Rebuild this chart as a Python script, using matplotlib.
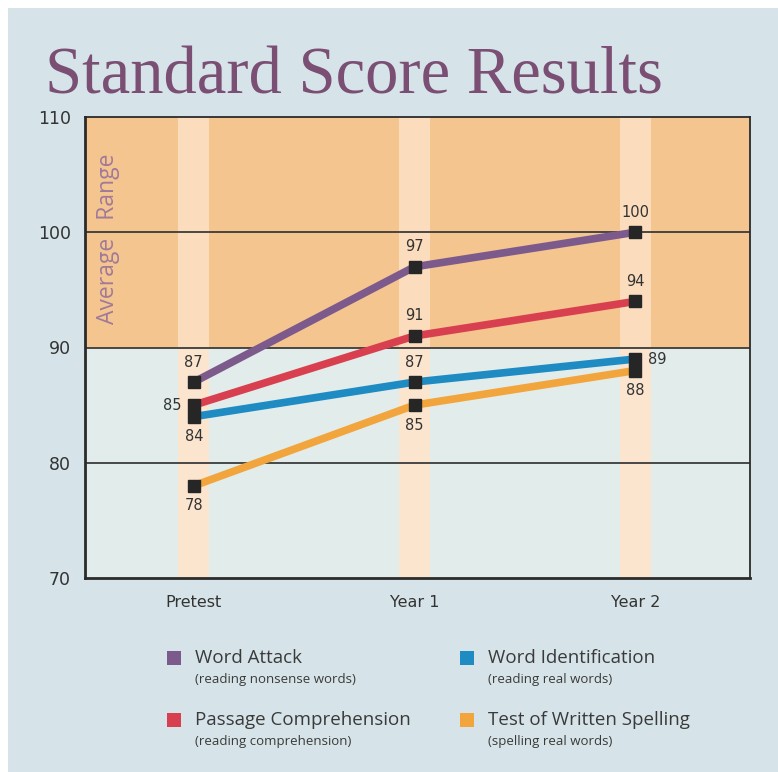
import numpy as np
import matplotlib
matplotlib.use("Agg")
import matplotlib.pyplot as plt
from matplotlib.patches import Rectangle

# data
categories = ["Pretest", "Year 1", "Year 2"]
word_attack = [87, 97, 100]
passage_comp = [85, 91, 94]
word_ident = [84, 87, 89]
spelling = [78, 85, 88]

series_names = ["Word Attack", "Word Identification",
                "Passage Comprehension", "Test of Written Spelling"]
series_notes = ["(reading nonsense words)", "(reading real words)",
                "(reading comprehension)", "(spelling real words)"]
yticks = [70, 80, 90, 100, 110]

# where each value label sits relative to its point
label_pos = {
    "Word Attack": ["above", "above", "above"],
    "Passage Comprehension": ["left", "above", "above"],
    "Word Identification": ["below", "above", "right"],
    "Test of Written Spelling": ["below", "below", "below"],
}
colors = {
    "Word Attack": "#7d5a8c",
    "Passage Comprehension": "#d9404f",
    "Word Identification": "#1f8bc3",
    "Test of Written Spelling": "#f2a53c",
}
values = {
    "Word Attack": word_attack,
    "Passage Comprehension": passage_comp,
    "Word Identification": word_ident,
    "Test of Written Spelling": spelling,
}

fig = plt.figure(figsize=(7.78, 7.72), dpi=100)
fig.patch.set_facecolor("white")
# light blue-grey panel behind everything
fig.patches.append(Rectangle((8 / 778, 0), 1, 1 - 8 / 772, transform=fig.transFigure,
                             facecolor="#d6e4e9", edgecolor="none", zorder=-10))

fig.text(45 / 778, 1 - 93 / 772, "Standard Score Results", family="Liberation Serif",
         fontsize=48, color="#7b4f74", ha="left", va="baseline")

ax = fig.add_axes([85 / 778, 194 / 772, 665 / 778, 461 / 772])
x = np.arange(len(categories))
ax.set_xlim(-0.493, 2.52)
ax.set_ylim(70, 110)

ax.axhspan(90, 110, color="#f5c590", zorder=0)
ax.axhspan(70, 90, color="#e2eceb", zorder=0)
ax.bar(x, 20, bottom=90, width=0.14, color="#fbdcbc", zorder=1)
ax.bar(x, 20, bottom=70, width=0.14, color="#fbe5cf", zorder=1)
for yv in [80, 90, 100]:
    ax.axhline(yv, color="#3b3b3b", lw=1.3, zorder=2)

ax.text(-0.39, 99.4, "Average   Range", rotation=90, ha="center", va="center",
        fontsize=16.5, color="#a07a98", family="Open Sans", zorder=3)

offsets = {"above": (0, 9, "center", "bottom"), "below": (0, -9, "center", "top"),
           "left": (-9, 0, "right", "center"), "right": (9, 0, "left", "center")}
for name in ["Test of Written Spelling", "Word Identification",
             "Passage Comprehension", "Word Attack"]:
    vals = values[name]
    ax.plot(x, vals, color=colors[name], lw=5.5, solid_capstyle="butt", zorder=4)
    ax.plot(x, vals, ls="none", marker="s", ms=9, color="#262626", zorder=5)
    for xi, v, pos in zip(x, vals, label_pos[name]):
        dx, dy, ha, va = offsets[pos]
        ax.annotate(str(v), (xi, v), xytext=(dx, dy), textcoords="offset points",
                    ha=ha, va=va, fontsize=10.5, color="#333333", zorder=6)

ax.set_yticks(yticks)
ax.set_xticks(x)
ax.set_xticklabels(categories, family="DejaVu Sans", fontsize=11.5, color="#333333")
ax.tick_params(axis="y", labelsize=12.5)
ax.tick_params(axis="both", length=0, colors="#333333")
ax.tick_params(axis="x", pad=12)
ax.tick_params(axis="y", pad=10)
for s in ax.spines.values():
    s.set_color("#2b2b2b")
    s.set_linewidth(1.3)
ax.spines["left"].set_linewidth(2)
ax.spines["bottom"].set_linewidth(2)

# legend, 2 x 2
lx = [174 / 778, 467 / 778]
ly = [1 - 658 / 772, 1 - 720 / 772]
sub_dy = 22 / 772
legend_order = [("Word Attack", 0, 0), ("Word Identification", 1, 0),
                ("Passage Comprehension", 0, 1), ("Test of Written Spelling", 1, 1)]
for (name, col, row), note in zip(legend_order, series_notes):
    fig.patches.append(Rectangle((lx[col] - 7 / 778, ly[row] - 7 / 772), 14 / 778, 14 / 772,
                                 transform=fig.transFigure, facecolor=colors[name],
                                 edgecolor="none", zorder=2))
    fig.text(lx[col] + 21 / 778, ly[row], name, fontsize=13.5, color="#3a3a3a",
             family="Open Sans", ha="left", va="center")
    fig.text(lx[col] + 21 / 778, ly[row] - sub_dy, note, fontsize=9.5, color="#3a3a3a",
             family="Open Sans", ha="left", va="center")

fig.savefig("out.png", dpi=100, facecolor=fig.get_facecolor())
